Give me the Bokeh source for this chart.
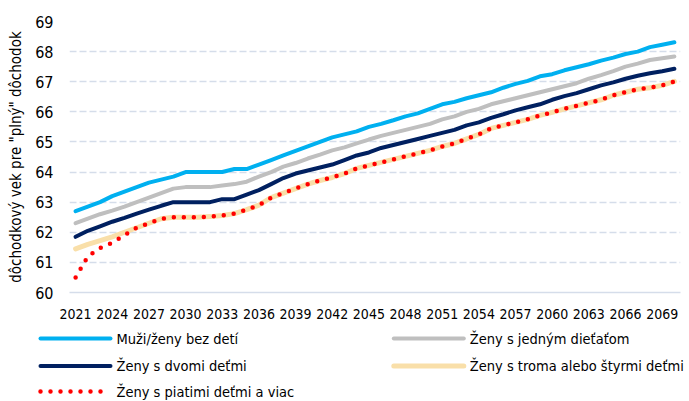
from bokeh.plotting import figure
from bokeh.layouts import column
from bokeh.models import FixedTicker, Range1d
from bokeh.core.properties import value
from bokeh.embed import file_html
from bokeh.resources import INLINE

# ---- data -------------------------------------------------------------
years = list(range(2021, 2071))

bez_deti = [62.70, 62.85, 63.00, 63.20, 63.35, 63.50, 63.65, 63.75, 63.85, 64.00,
            64.00, 64.00, 64.00, 64.10, 64.10, 64.25, 64.40, 64.55, 64.70, 64.85,
            65.00, 65.15, 65.25, 65.35, 65.50, 65.60, 65.72, 65.85, 65.95, 66.10,
            66.25, 66.33, 66.45, 66.55, 66.65, 66.80, 66.93, 67.03, 67.18, 67.25,
            67.38, 67.48, 67.58, 67.70, 67.80, 67.92, 68.00, 68.15, 68.23, 68.31]

jedno_dieta = [62.30, 62.45, 62.60, 62.72, 62.85, 63.00, 63.15, 63.30, 63.45, 63.50,
               63.50, 63.50, 63.55, 63.60, 63.68, 63.85, 64.00, 64.18, 64.30, 64.45,
               64.58, 64.72, 64.82, 64.95, 65.08, 65.20, 65.30, 65.40, 65.50, 65.60,
               65.75, 65.85, 66.00, 66.10, 66.25, 66.35, 66.45, 66.55, 66.65, 66.75,
               66.85, 66.95, 67.10, 67.22, 67.35, 67.50, 67.60, 67.72, 67.78, 67.84]

dve_deti = [61.85, 62.05, 62.20, 62.35, 62.48, 62.62, 62.75, 62.88, 63.00, 63.00,
            63.00, 63.00, 63.10, 63.10, 63.25, 63.40, 63.60, 63.80, 63.95, 64.05,
            64.15, 64.25, 64.40, 64.55, 64.65, 64.80, 64.90, 65.00, 65.10, 65.20,
            65.30, 65.40, 65.55, 65.65, 65.80, 65.92, 66.05, 66.15, 66.25, 66.40,
            66.52, 66.62, 66.75, 66.88, 66.98, 67.10, 67.20, 67.28, 67.35, 67.43]

tri_styri_deti = [61.45, 61.60, 61.72, 61.85, 62.00, 62.15, 62.30, 62.45, 62.50, 62.50,
                  62.50, 62.52, 62.56, 62.62, 62.75, 62.90, 63.15, 63.30, 63.45, 63.60,
                  63.72, 63.82, 63.95, 64.12, 64.22, 64.32, 64.42, 64.52, 64.62, 64.72,
                  64.85, 64.95, 65.10, 65.25, 65.45, 65.55, 65.65, 65.75, 65.88, 65.98,
                  66.10, 66.20, 66.30, 66.40, 66.55, 66.65, 66.75, 66.80, 66.88, 67.01]

pat_deti = [60.50, 61.20, 61.48, 61.65, 61.90, 62.15, 62.30, 62.45, 62.50, 62.50,
            62.50, 62.52, 62.56, 62.62, 62.75, 62.90, 63.15, 63.30, 63.45, 63.60,
            63.72, 63.82, 63.95, 64.12, 64.22, 64.32, 64.42, 64.52, 64.62, 64.72,
            64.85, 64.95, 65.10, 65.25, 65.45, 65.55, 65.65, 65.75, 65.88, 65.98,
            66.10, 66.20, 66.30, 66.40, 66.55, 66.65, 66.75, 66.80, 66.88, 67.01]

series_names = ["Muži/ženy bez detí", "Ženy s jedným dieťaťom", "Ženy s dvomi deťmi",
                "Ženy s troma alebo štyrmi deťmi", "Ženy s piatimi deťmi a viac"]

x_ticks = [2021, 2024, 2027, 2030, 2033, 2036, 2039, 2042, 2045, 2048, 2051,
           2054, 2057, 2060, 2063, 2066, 2069]
y_ticks = [60, 61, 62, 63, 64, 65, 66, 67, 68, 69]
y_title = 'dôchodkový vek pre "plný" dôchodok'

# ---- style -------------------------------------------------------------
FONT = "DejaVu Sans Condensed, Liberation Sans"
TXT = "#000000"
GRID = "#D5DDEA"
colors = ["#00B0F0", "#BFBFBF", "#002060", "#F9DFA9", "#FF0000"]
widths = [4, 4, 4, 5, 4.5]
dashes = ["solid", "solid", "solid", "solid", "0 10"]

W = 689
H1 = 328
H2 = 72

p = figure(width=W, height=H1, output_backend="svg", toolbar_location=None,
           x_range=Range1d(2020.5, 2070.5), y_range=Range1d(60, 69),
           min_border_left=69, min_border_right=9, min_border_top=21,
           min_border_bottom=H1 - 21 - 271)
p.frame_align = False
p.outline_line_color = None
p.background_fill_color = "white"
p.border_fill_color = "white"

p.xgrid.grid_line_color = None
p.ygrid.grid_line_color = GRID
p.ygrid.grid_line_width = 1.5
p.ygrid.grid_line_dash = "7 3"

p.xaxis.ticker = FixedTicker(ticks=x_ticks)
p.xaxis.major_label_overrides = {t: str(t) for t in x_ticks}
p.xaxis.axis_line_color = GRID
p.xaxis.axis_line_width = 1.5
p.xaxis.major_tick_line_color = None
p.xaxis.minor_tick_line_color = None
p.xaxis.major_tick_out = 0
p.xaxis.major_tick_in = 0
p.xaxis.major_label_standoff = 16
p.xaxis.major_label_text_font = FONT
p.xaxis.major_label_text_font_size = "14px"
p.xaxis.major_label_text_color = TXT

p.yaxis.ticker = FixedTicker(ticks=y_ticks)
p.yaxis.axis_line_color = None
p.yaxis.major_tick_line_color = None
p.yaxis.minor_tick_line_color = None
p.yaxis.major_tick_out = 0
p.yaxis.major_tick_in = 0
p.yaxis.major_label_standoff = 16
p.yaxis.major_label_text_font = FONT
p.yaxis.major_label_text_font_size = "16px"
p.yaxis.major_label_text_color = TXT
p.yaxis.axis_label = y_title
p.yaxis.axis_label_text_font = FONT
p.yaxis.axis_label_text_font_size = "15px"
p.yaxis.axis_label_text_font_style = "normal"
p.yaxis.axis_label_text_color = TXT
p.yaxis.axis_label_standoff = 7

values = [bez_deti, jedno_dieta, dve_deti, tri_styri_deti, pat_deti]
for vals, col, w, d in zip(values, colors, widths, dashes):
    p.line(years, vals, line_color=col, line_width=w, line_dash=d,
           line_cap="round", line_join="round")

# ---- legend (separate figure, pixel coordinates from its top-left) -----
lg = figure(width=W, height=H2, output_backend="svg", toolbar_location=None,
            x_range=Range1d(0, W), y_range=Range1d(H2, 0),
            min_border=0, x_axis_type=None, y_axis_type=None)
lg.frame_align = False
lg.outline_line_color = None
lg.grid.grid_line_color = None
lg.background_fill_color = "white"
lg.border_fill_color = "white"

col_x = [40, 393.3]
row_y = [338 - H1, 365.5 - H1, 391 - H1]
slots = [(col_x[0], row_y[0]), (col_x[1], row_y[0]), (col_x[0], row_y[1]),
         (col_x[1], row_y[1]), (col_x[0], row_y[2])]
SW = 70
for name, col, w, d, (sx, sy) in zip(series_names, colors, widths, dashes, slots):
    lg.line([sx, sx + SW], [sy, sy], line_color=col, line_width=w, line_dash=d,
            line_cap="round")
    lg.text(x=[sx + SW + 6], y=[sy], text=[name], text_font=value(FONT),
            text_font_size="14.5px", text_color=TXT, text_baseline="middle",
            text_align="left")

open("out.html", "w").write(file_html(column(p, lg, spacing=0), INLINE))
